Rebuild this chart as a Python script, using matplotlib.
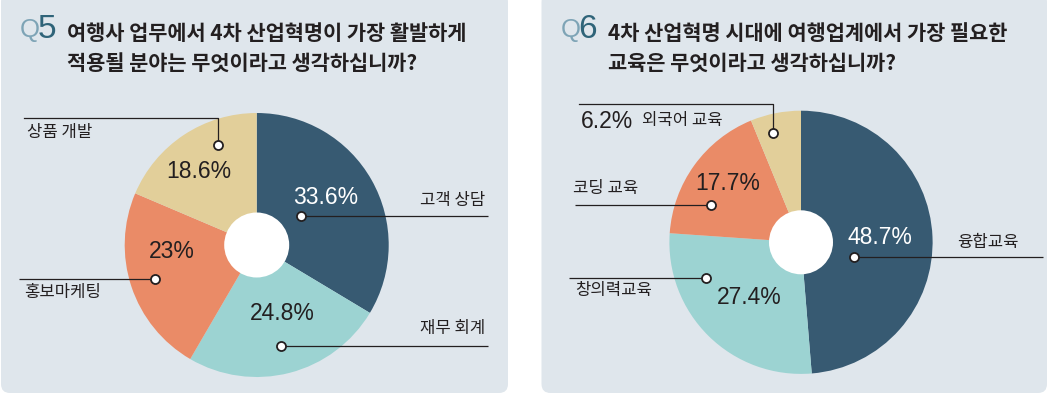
import matplotlib
matplotlib.use('Agg')
import matplotlib.pyplot as plt
import numpy as np
from matplotlib.patches import FancyBboxPatch, Circle

# ---- data ----
q5_title = ['여행사 업무에서 4차 산업혁명이 가장 활발하게', '적용될 분야는 무엇이라고 생각하십니까?']
q5_labels = ['고객 상담', '재무 회계', '홍보마케팅', '상품 개발']
q5_values = [33.6, 24.8, 23, 18.6]

q6_title = ['4차 산업혁명 시대에 여행업계에서 가장 필요한', '교육은 무엇이라고 생각하십니까?']
q6_labels = ['융합교육', '창의력교육', '코딩 교육', '외국어 교육']
q6_values = [48.7, 27.4, 17.7, 6.2]

colors = ['#375a72', '#9cd3d2', '#ea8b67', '#e2cf9a']

W, H = 1049, 396
BG = '#dfe6ec'
INK = '#231f20'
KR = ['Noto Sans CJK KR', 'DejaVu Sans']
NUM = ['Liberation Sans', 'DejaVu Sans']


def Y(y):
    # image rows (top-down) -> axis units (bottom-up)
    return H - y


def fmt(v):
    return f'{v:g}%'


def draw_panel(ax, x0, x1, qnum, title, labels, values, center, radius, hole, layout):
    ax.add_patch(FancyBboxPatch((x0, Y(393)), x1 - x0, 400, boxstyle='round,pad=0,rounding_size=9',
                                fc=BG, ec='none', zorder=0))
    tx = x0 + 19
    ax.text(tx, Y(30), 'Q', fontsize=18.5, color='#7ea4b6', family=NUM, va='center', ha='left')
    ax.text(tx + 18, Y(29.5), qnum, fontsize=24, color='#2f6479', family=NUM,
            va='center', ha='left')
    for i, line in enumerate(title):
        ax.text(x0 + 66, Y(33 + 30 * i), line, fontsize=15, color=INK, family=KR, weight='bold',
                va='center', ha='left')

    cx, cy = center
    wedges, _ = ax.pie(values, colors=colors, startangle=90, counterclock=False,
                       center=(cx, Y(cy)), radius=radius, frame=True,
                       wedgeprops=dict(linewidth=0))
    ax.add_patch(Circle((cx, Y(cy)), hole, fc='white', ec='none', zorder=3))

    for w, lab, v, lay in zip(wedges, labels, values, layout):
        frac, rfrac, line_x, pct_xy, pct_col, lab_xy, lab_ha, elbow = lay
        # clockwise pie: theta2 is where the wedge starts
        ang = np.deg2rad(w.theta2 - frac * (w.theta2 - w.theta1))
        dx = cx + rfrac * radius * np.cos(ang)
        dy = Y(cy) + rfrac * radius * np.sin(ang)
        if elbow is None:
            ax.plot([dx, line_x], [dy, dy], color=INK, lw=0.9, zorder=4, solid_capstyle='butt')
        else:
            ax.plot([dx, dx, line_x], [dy, Y(elbow), Y(elbow)], color=INK, lw=0.9, zorder=4)
        ax.plot(dx, dy, 'o', ms=6.5, mfc='white', mec=INK, mew=1.3, zorder=5)
        ax.text(pct_xy[0], Y(pct_xy[1]), fmt(v), fontsize=16.5, color=pct_col, family=NUM,
                ha='center', va='center', zorder=6)
        if lab_xy is not None:
            ax.text(lab_xy[0], Y(lab_xy[1]), lab, fontsize=12, color=INK, family=KR,
                    ha=lab_ha, va='center', zorder=6)


fig = plt.figure(figsize=(W / 100, H / 100), dpi=100)
ax = fig.add_axes([0, 0, 1, 1])
ax.set_xlim(0, W)
ax.set_ylim(0, H)
ax.axis('off')

# layout: (pos in wedge, radial pos, line end x, pct text xy, pct colour, label xy, label ha, elbow y)
q5_layout = [
    (0.47, 0.40, 488, (326, 197), 'white', (485, 201), 'right', None),
    (0.51, 0.79, 488, (282, 313), INK, (485, 328), 'right', None),
    (0.50, 0.81, 19, (172, 252), INK, (24, 292), 'left', None),
    (0.68, 0.81, 24, (199, 172), INK, (27, 132), 'left', 118),
]
draw_panel(ax, 1, 508, '5', q5_title, q5_labels, q5_values, (256.7, 245), 132, 32.5, q5_layout)

q6_layout = [
    (0.60, 0.42, 1043, (880, 237), 'white', (957, 242), 'left', None),
    (0.75, 0.77, 569, (749, 298), INK, (575, 291), 'left', None),
    (0.29, 0.74, 575, (728, 184), INK, (573, 189), 'left', None),
    (0.35, 0.86, 579, (607, 121), INK, None, 'left', 104),
]
draw_panel(ax, 541.5, 1047, '6', q6_title, q6_labels, q6_values, (801, 242.3), 131.6, 32, q6_layout)
# small label sitting next to the 6.2% value
ax.text(642, Y(121), q6_labels[3], fontsize=12, color=INK, family=KR, ha='left', va='center', zorder=6)

ax.set_xlim(0, W)
ax.set_ylim(0, H)
ax.set_aspect('auto')
fig.savefig('out.png', dpi=100, facecolor='white')
